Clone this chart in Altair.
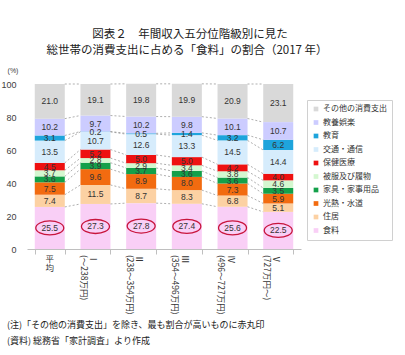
import altair as alt
import pandas as pd

categories = ["平均", "Ⅰ", "Ⅱ", "Ⅲ", "Ⅳ", "Ⅴ"]
sublabels = ["", "(～238万円)", "(238～354万円)", "(354～496万円)", "(496～727万円)", "(727万円～)"]

series = ["食料", "住居", "光熱・水道", "家具・家事用品", "被服及び履物",
          "保健医療", "交通・通信", "教育", "教養娯楽", "その他の消費支出"]
colors = ["#f9cff6", "#fcd1a3", "#f26b10", "#14a04a", "#d4f7d0",
          "#ee1111", "#d6ecfc", "#1ea4dc", "#ccccff", "#d9d9d9"]

food = [25.5, 27.3, 27.8, 27.4, 25.6, 22.5]
housing = [7.4, 11.5, 8.7, 8.3, 6.8, 5.1]
utilities = [7.5, 9.6, 8.9, 8.0, 7.3, 5.9]
furniture = [3.6, 3.9, 3.7, 3.6, 3.6, 3.5]
clothing = [3.7, 2.8, 2.9, 3.4, 3.8, 4.6]
medical = [4.5, 5.2, 5.0, 5.0, 4.2, 4.0]
transport = [13.5, 10.7, 12.6, 13.3, 14.5, 14.4]
education = [3.1, 0.2, 0.5, 1.4, 3.2, 6.2]
recreation = [10.2, 9.7, 10.2, 9.8, 10.1, 10.7]
other = [21.0, 19.1, 19.8, 19.9, 20.9, 23.1]

series_values = [food, housing, utilities, furniture, clothing,
                 medical, transport, education, recreation, other]

y_ticks = [0, 20, 40, 60, 80, 100]

title1 = "図表２　年間収入五分位階級別に見た"
title2 = "総世帯の消費支出に占める「食料」の割合（2017 年）"
note1 = "(注)「その他の消費支出」を除き、最も割合が高いものに赤丸印"
note2 = "(資料) 総務省「家計調査」より作成"

# ---- build tables ----
rows = []
cum = [0.0] * len(categories)
tops = {}
for si, (s, vals) in enumerate(zip(series, series_values)):
    tops[s] = []
    for ci, c in enumerate(categories):
        y0 = cum[ci]
        y1 = y0 + vals[ci]
        cum[ci] = y1
        tops[s].append(y1)
        rows.append({"cat": c, "series": s, "value": vals[ci], "y0": y0, "y1": y1,
                     "mid": (y0 + y1) / 2, "order": si})
df = pd.DataFrame(rows)

lines = []
for s in series:
    for ci in range(len(categories) - 1):
        lines.append({"cat": categories[ci], "cat_next": categories[ci + 1],
                      "ya": tops[s][ci], "yb": tops[s][ci + 1]})
df_lines = pd.DataFrame(lines)

df_lab = pd.DataFrame({
    "cat": categories,
    "label": ["\n".join(list(c)) if s == "" else c + "\n" + s for c, s in zip(categories, sublabels)],
    "vertical": [s == "" for s in sublabels],
})

xscale = alt.Scale(domain=categories, paddingInner=0.343, paddingOuter=0.17)
yscale = alt.Scale(domain=[0, 100], nice=False)
yaxis = alt.Axis(values=y_ticks, domain=False, ticks=False, grid=False,
                 labelPadding=11, labelFontSize=9, labelOverlap=False, labelFlush=False,
                 labelColor="#404040", title=None, labelFont="Liberation Sans")
xaxis = alt.Axis(labels=False, title=None, domainColor="#bfbfbf", tickColor="#bfbfbf",
                 tickBand="extent", tickSize=5, grid=False)

legend_order = series[::-1]
legend_colors = colors[::-1]

bars = alt.Chart(df).mark_bar().encode(
    x=alt.X("cat:N", scale=xscale, sort=categories, axis=xaxis),
    y=alt.Y("y0:Q", scale=yscale, axis=yaxis),
    y2="y1:Q",
    color=alt.Color("series:N",
                    scale=alt.Scale(domain=legend_order, range=legend_colors),
                    legend=alt.Legend(orient="none", legendX=280, legendY=16, title=None,
                                      symbolType="square", symbolSize=22,
                                      symbolStrokeWidth=0, labelFontSize=8,
                                      labelFont="Noto Sans CJK JP", labelColor="#333333",
                                      rowPadding=5.5, padding=5, strokeColor="#d0d0d0",
                                      labelOffset=3, labelLimit=200)),
)

rules = alt.Chart(df_lines).mark_rule(strokeDash=[2, 2], color="#8c8c8c", strokeWidth=0.7).encode(
    x=alt.X("cat:N", scale=xscale, bandPosition=1, axis=xaxis),
    x2=alt.X2("cat_next:N", bandPosition=0),
    y=alt.Y("ya:Q", scale=yscale, axis=yaxis),
    y2="yb:Q",
)

vals_text = alt.Chart(df).mark_text(font="Liberation Sans", fontSize=8.5, color="#333333").encode(
    x=alt.X("cat:N", scale=xscale, axis=xaxis),
    y=alt.Y("mid:Q", scale=yscale, axis=yaxis),
    text=alt.Text("value:Q", format=".1f"),
)

ellipse_path = "M-1,0 A1,0.5 0 1,1 1,0 A1,0.5 0 1,1 -1,0 Z"
circles = alt.Chart(df[df["series"] == series[0]]).mark_point(
    shape=ellipse_path, size=784, filled=False, stroke="#c8143c", strokeWidth=1.3, opacity=1
).encode(
    x=alt.X("cat:N", scale=xscale, axis=xaxis),
    y=alt.Y("mid:Q", scale=yscale, axis=yaxis),
)

xlab_h = alt.Chart(df_lab[df_lab["vertical"]]).mark_text(
    font="Noto Sans CJK JP", fontSize=8.5, color="#333333", align="center",
    baseline="top", lineBreak="\n", lineHeight=8.5
).encode(x=alt.X("cat:N", scale=xscale, axis=xaxis), y=alt.value(171), text="label:N")

xlab_v = alt.Chart(df_lab[~df_lab["vertical"]]).mark_text(
    font="Noto Sans CJK JP", fontSize=8.5, color="#333333", align="left",
    baseline="middle", angle=90, lineBreak="\n", lineHeight=9.5, dy=2
).encode(x=alt.X("cat:N", scale=xscale, axis=xaxis), y=alt.value(171), text="label:N")

def txt(s, x, y, size, align="left", font="Noto Sans CJK JP", color="#222222"):
    return alt.Chart(pd.DataFrame({"t": [s]})).mark_text(
        font=font, fontSize=size, align=align, baseline="middle", color=color
    ).encode(x=alt.value(x), y=alt.value(y), text="t:N")

texts = [
    txt(title1, 163, -49, 11.5, align="center"),
    txt(title2, 160, -33, 11.5, align="center"),
    txt("(%)", -14, -13, 7, align="center", font="Liberation Sans", color="#404040"),
    txt(note1, -20, 241, 9),
    txt(note2, -20, 257, 9),
]

chart = alt.layer(bars, rules, vals_text, circles, xlab_h, xlab_v, *texts).properties(
    width=274, height=165,
    autosize=alt.AutoSizeParams(type="none"),
    padding={"left": 27, "top": 84, "right": 104, "bottom": 106},
    background="white",
).configure_view(stroke=None)

chart.save("out.html", embed_options={"renderer": "svg", "actions": False})
